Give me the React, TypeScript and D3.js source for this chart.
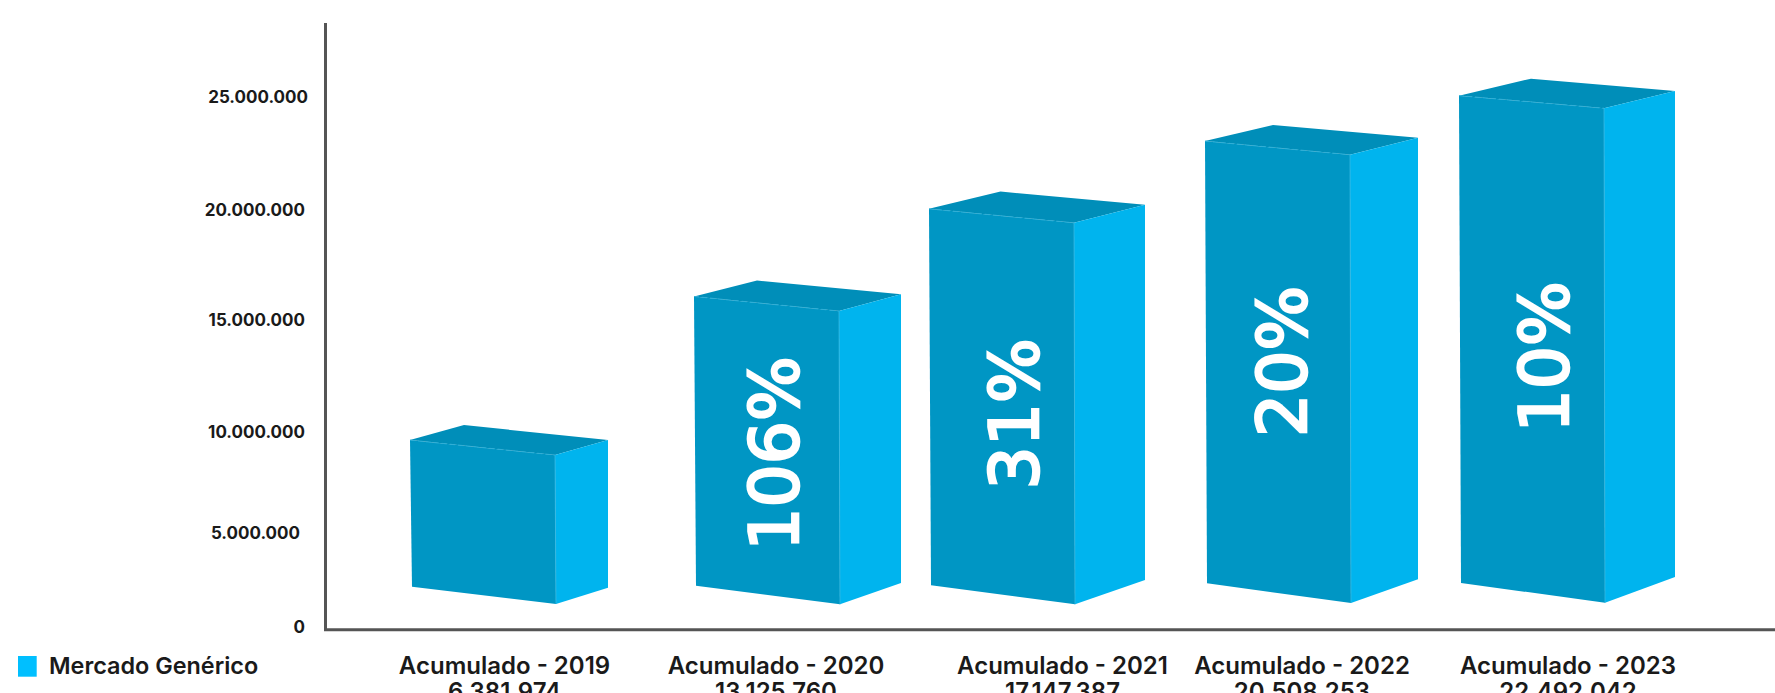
import { type FC, useEffect, useRef } from 'react';
import * as d3 from 'd3';

const width = 1775;
const height = 693;

const years = ['2019', '2020', '2021', '2022', '2023'];
// accumulated totals printed under each bar
const totals = [6381974, 13125760, 17147387, 20508253, 22492042];
// bar height as read against the y axis (the drawing does not follow the totals exactly)
const levels = [9600000, 16070000, 20050000, 23050000, 25060000];
const growth = ['', '106%', '31%', '20%', '10%'];
const yTicks = [0, 5000000, 10000000, 15000000, 20000000, 25000000];
const legendLabel = 'Mercado Genérico';

const frontColor = '#0096c4';
const sideColor = '#00b4ee';
const topColor = '#008eb9';
const legendColor = '#00bfff';
const axisColor = '#555555';
const textColor = '#1a1a1a';
const font = 'Inter, sans-serif';

// the axis labels in the source are hand placed, so the scale is piecewise
const tickPixels = [627, 533, 432, 320, 210, 97];
const tickNudge = [0, -5, 0, 0, 0, 3];

// hand drawn box: shifts and perspective, one entry per bar
const frontW = 145;
const barShift = [0, 22, -5, 9, 1];
const labelShift = [-1.5, 8, 32.5, 10, 14];
const sideW = [53, 62, 71, 68, 71];
const backDx = [54, 63, 71.5, 68, 72];
const backRise = [15, 16, 17.3, 16, 17];
const topDrop = [15, 14.6, 14, 13.7, 12.6];
const sideRise = [0, 2.2, 4, 3.3, 4.7];
const baseLeft = [586.7, 585.7, 585.3, 583.3, 583];
const baseFront = [604, 604.3, 604.3, 603, 602.7];
const baseSide = [587.7, 583, 580, 579.3, 577];
const percentX = [0, 773.6, 1014, 1281.5, 1544];
const percentY = [0, 453.5, 414, 361.5, 357];

const App: FC = () => {
  const ref = useRef<SVGSVGElement>(null);

  useEffect(() => {
    const { current: dom } = ref;
    if (!dom) {
      return;
    }
    const svg = d3.select(dom);
    svg.selectAll('*').remove();

    const yScale = d3.scaleLinear().domain(yTicks).range(tickPixels);
    const xScale = d3
      .scaleBand()
      .domain(years)
      .range([410, 410 + 262 * 5])
      .paddingInner(0);
    const number = d3.formatLocale({
      decimal: ',',
      thousands: '.',
      grouping: [3],
      currency: ['', ''],
    });
    const fmt = number.format(',d');
    const poly = d3
      .line<[number, number]>()
      .x((d) => d[0])
      .y((d) => d[1])
      .curve(d3.curveLinearClosed);

    // bars
    const bars = svg.append('g');
    years.forEach((year, i) => {
      const left = (xScale(year) ?? 0) + barShift[i];
      const right = left + frontW;
      const far = right + sideW[i];
      const top = yScale(levels[i]);
      const tl: [number, number] = [left, top];
      const tr: [number, number] = [right, top + topDrop[i]];
      const back: [number, number] = [left + backDx[i], top - backRise[i]];
      const rt: [number, number] = [far, top - sideRise[i]];
      const bl: [number, number] = [left + 2, baseLeft[i]];
      const br: [number, number] = [right + 1, baseFront[i]];
      const rb: [number, number] = [far, baseSide[i]];

      bars.append('path').attr('d', poly([tl, back, rt, tr])).attr('fill', topColor);
      bars.append('path').attr('d', poly([tr, rt, rb, br])).attr('fill', sideColor);
      bars.append('path').attr('d', poly([tl, tr, br, bl])).attr('fill', frontColor);
      bars
        .append('line')
        .attr('x1', tl[0])
        .attr('y1', tl[1])
        .attr('x2', tr[0])
        .attr('y2', tr[1])
        .attr('stroke', '#2fb0d8')
        .attr('stroke-width', 1)
        .attr('stroke-dasharray', '5 3');
      bars
        .append('line')
        .attr('x1', tr[0])
        .attr('y1', tr[1])
        .attr('x2', br[0])
        .attr('y2', br[1])
        .attr('stroke', '#35b9e2')
        .attr('stroke-width', 0.8);

      if (growth[i]) {
        bars
          .append('text')
          .attr('transform', `translate(${percentX[i]},${percentY[i]}) rotate(-90)`)
          .attr('text-anchor', 'middle')
          .attr('dy', '0.36em')
          .attr('fill', '#ffffff')
          .attr('stroke', '#ffffff')
          .attr('stroke-width', 2.6)
          .attr('font-family', '"DejaVu Sans", sans-serif')
          .attr('font-size', 68)
          .text(growth[i]);
      }
    });

    // y axis
    const axis = svg
      .append('g')
      .attr('transform', 'translate(305,0)')
      .call(
        d3
          .axisLeft(yScale)
          .tickValues(yTicks)
          .tickSize(0)
          .tickPadding(0)
          .tickFormat((d) => fmt(d as number)),
      );
    axis.select('.domain').remove();
    axis
      .selectAll<SVGTextElement, number>('text')
      .attr('x', (d) => tickNudge[yTicks.indexOf(d)])
      .attr('dy', '0.34em')
      .attr('fill', textColor)
      .attr('font-family', font)
      .attr('font-weight', 700)
      .attr('font-size', 17);

    svg
      .append('path')
      .attr('d', `M325.5,23V631M324,629.7H${width}`)
      .attr('fill', 'none')
      .attr('stroke', axisColor)
      .attr('stroke-width', 3);

    // category labels
    const labels = svg
      .append('g')
      .attr('text-anchor', 'middle')
      .attr('fill', textColor)
      .attr('font-family', font)
      .attr('font-weight', 600)
      .attr('font-size', 24);
    years.forEach((year, i) => {
      const cx = (xScale(year) ?? 0) + 96 + labelShift[i];
      labels.append('text').attr('x', cx).attr('y', 674).text(`Acumulado - ${year}`);
      labels.append('text').attr('x', cx).attr('y', 700).text(fmt(totals[i]));
    });

    // legend
    svg
      .append('rect')
      .attr('x', 18)
      .attr('y', 656)
      .attr('width', 18.7)
      .attr('height', 20.7)
      .attr('fill', legendColor);
    svg
      .append('text')
      .attr('x', 49)
      .attr('y', 674)
      .attr('fill', textColor)
      .attr('font-family', font)
      .attr('font-weight', 600)
      .attr('font-size', 23.4)
      .text(legendLabel);
  }, []);

  return (
    <svg
      ref={ref}
      width={width}
      height={height}
      style={{ position: 'absolute', left: 0, top: 0, display: 'block', background: '#fff' }}
    />
  );
};

export default App;
